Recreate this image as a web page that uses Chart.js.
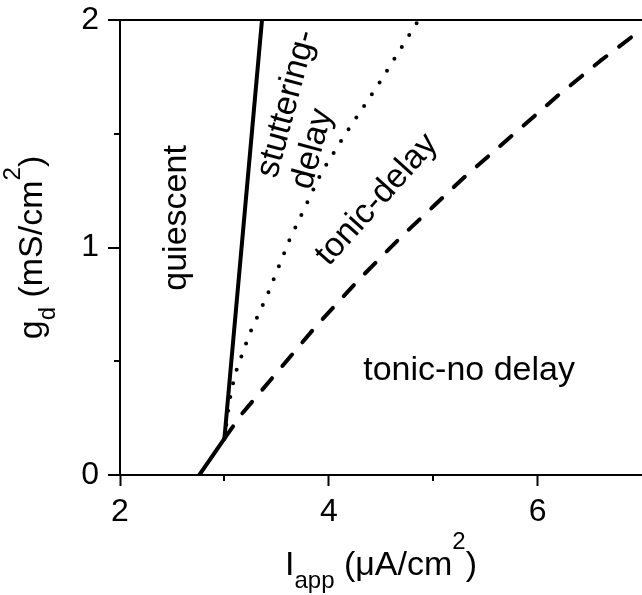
<!DOCTYPE html>
<html>
<head>
<meta charset="utf-8">
<script src="https://cdn.jsdelivr.net/npm/chart.js@4.4.1/dist/chart.umd.min.js"></script>
<style>
  html, body { margin: 0; padding: 0; background: #fff; }
</style>
</head>
<body>
<canvas id="c" width="642" height="595"></canvas>
<script>
const FONT = '"Liberation Sans", Arial, Helvetica, sans-serif';

// boundaries: I_app (uA/cm2) vs g_d (mS/cm2)
const solidX = [2.76, 3.0, 3.36];
const solidY = [0, 0.16, 2.0];

const dottedX = [3.0, 3.05, 3.1, 3.24, 3.41, 3.62, 3.93, 4.16, 4.48, 4.86];
const dottedY = [0.16, 0.33, 0.44, 0.62, 0.79, 1.03, 1.33, 1.5, 1.72, 2.0];

const dashX = [3.0, 3.17, 3.52, 3.87, 4.29, 4.7, 5.0, 5.3, 5.8, 6.2, 6.6, 7.0];
const dashY = [0.16, 0.27, 0.46, 0.65, 0.86, 1.05, 1.18, 1.31, 1.51, 1.67, 1.82, 1.96];

const xTicks = [2, 4, 6];
const xMinor = [3, 5];
const yTicks = [0, 1, 2];
const yMinor = [0.5, 1.5];

// region names, placed in data coords
const regions = [
  { text: "quiescent", x: 2.54, y: 1.13, rot: -90, align: "center", base: "middle" },
  { text: "stuttering-", x: 3.5, y: 1.3, rot: -75, align: "left", base: "alphabetic" },
  { text: "delay", x: 3.83, y: 1.25, rot: -75, align: "left", base: "alphabetic" },
  { text: "tonic-delay", x: 4.46, y: 1.21, rot: -48, align: "center", base: "middle" },
  { text: "tonic-no delay", x: 4.33, y: 0.418, rot: 0, align: "left", base: "alphabetic" },
];

const xTitle = [
  { t: "I", size: 34, dy: 0 }, { t: "app", size: 24, dy: 13 },
  { t: " (\u03bcA/cm", size: 34, dy: 0 }, { t: "2", size: 24, dy: -26 }, { t: ")", size: 34, dy: 0 },
];
const yTitle = [
  { t: "g", size: 34, dy: 0 }, { t: "d", size: 24, dy: 13 },
  { t: " (mS/cm", size: 34, dy: 0 }, { t: "2", size: 24, dy: -22 }, { t: ")", size: 34, dy: 0 },
];

const pts = (xs, ys) => xs.map((v, i) => ({ x: v, y: ys[i] }));

function drawRich(ctx, parts, cx, cy, rot) {
  ctx.save();
  ctx.translate(cx, cy);
  ctx.rotate(rot * Math.PI / 180);
  ctx.textAlign = "left";
  ctx.textBaseline = "alphabetic";
  let w = 0;
  parts.forEach(p => { ctx.font = `${p.size}px ${FONT}`; p.w = ctx.measureText(p.t).width; w += p.w; });
  let x = -w / 2;
  parts.forEach(p => { ctx.font = `${p.size}px ${FONT}`; ctx.fillText(p.t, x, p.dy); x += p.w; });
  ctx.restore();
}

const extras = {
  id: "extras",
  afterDraw(chart) {
    const { ctx, chartArea: a } = chart;
    const { x, y } = chart.scales;
    ctx.save();
    ctx.strokeStyle = "#000";
    ctx.lineWidth = 2;
    // minor ticks, shorter than the major ones
    xMinor.forEach(v => {
      const px = Math.round(x.getPixelForValue(v));
      ctx.beginPath(); ctx.moveTo(px, a.bottom); ctx.lineTo(px, a.bottom + 6); ctx.stroke();
    });
    yMinor.forEach(v => {
      const py = Math.round(y.getPixelForValue(v));
      ctx.beginPath(); ctx.moveTo(a.left, py); ctx.lineTo(a.left - 6, py); ctx.stroke();
    });

    ctx.fillStyle = "#000";
    regions.forEach(r => {
      ctx.save();
      ctx.translate(x.getPixelForValue(r.x), y.getPixelForValue(r.y));
      ctx.rotate(r.rot * Math.PI / 180);
      ctx.font = `34px ${FONT}`;
      ctx.textAlign = r.align;
      ctx.textBaseline = r.base;
      ctx.fillText(r.text, 0, 0);
      ctx.restore();
    });

    drawRich(ctx, xTitle, (a.left + a.right) / 2, 575, 0);
    drawRich(ctx, yTitle, 42, (a.top + a.bottom) / 2, -90);
    ctx.restore();
  }
};

const line = (data, dash) => ({
  data, showLine: true, pointRadius: 0, borderColor: "#000", borderWidth: 4,
  borderDash: dash, borderCapStyle: "round", borderJoinStyle: "round", tension: 0, fill: false,
});

new Chart(document.getElementById("c"), {
  type: "scatter",
  data: {
    datasets: [
      line(pts(dashX, dashY), [15, 16]),
      line(pts(dottedX, dottedY), [0, 14]),
      line(pts(solidX, solidY), []),
    ],
  },
  options: {
    responsive: false,
    animation: false,
    devicePixelRatio: 1,
    layout: { padding: { top: 20, right: 0, left: 0, bottom: 0 } },
    plugins: { legend: { display: false }, tooltip: { enabled: false } },
    scales: {
      x: {
        type: "linear", min: 2, max: 7,
        afterBuildTicks: s => { s.ticks = xTicks.map(v => ({ value: v })); },
        afterFit: s => { s.height = 120; s.paddingLeft = 0; s.paddingRight = 0; },
        border: { display: true, color: "#000", width: 2 },
        grid: { drawOnChartArea: false, color: "#000", tickColor: "#000", tickLength: 11, tickWidth: 2 },
        ticks: { color: "#000", font: { family: FONT, size: 32 }, padding: 7, maxRotation: 0 },
      },
      y: {
        type: "linear", min: 0, max: 2,
        afterBuildTicks: s => { s.ticks = yTicks.map(v => ({ value: v })); },
        afterFit: s => { s.width = 120; s.paddingTop = 0; s.paddingBottom = 0; },
        border: { display: true, color: "#000", width: 2 },
        grid: {
          color: c => (c.tick && c.tick.value === 2 ? "#000" : "rgba(0,0,0,0)"),
          lineWidth: 2, tickColor: "#000", tickLength: 12, tickWidth: 2,
        },
        ticks: { color: "#000", font: { family: FONT, size: 32 }, padding: 9 },
      },
    },
  },
  plugins: [extras],
});
</script>
</body>
</html>
